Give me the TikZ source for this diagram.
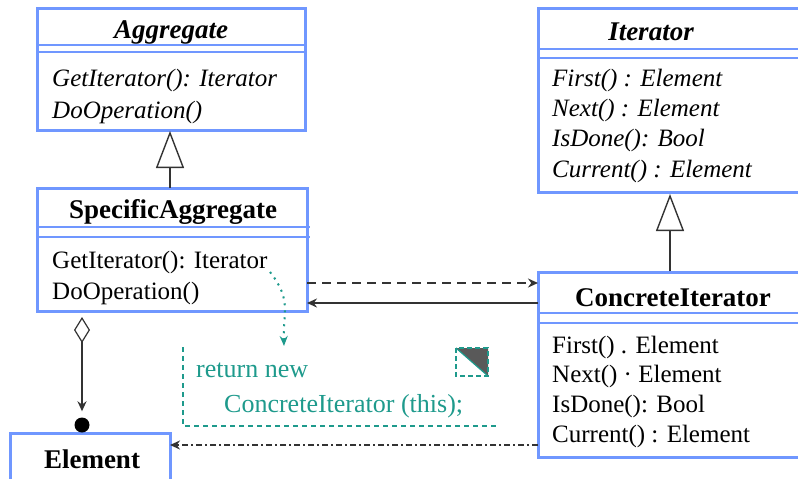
\documentclass[tikz,border=0pt]{standalone}
\usepackage{fontspec}
\setmainfont{Liberation Serif}
\usetikzlibrary{arrows.meta,calc}
\definecolor{boxblue}{HTML}{7097FF}
\definecolor{noteteal}{HTML}{1E9A8C}
\definecolor{linegray}{HTML}{333333}
\begin{document}
\begin{tikzpicture}[x=1pt,y=-1pt,
  classbox/.style={draw=boxblue, line width=3pt, fill=white, inner sep=0pt, outer sep=0pt},
  sepline/.style={draw=boxblue, line width=2.6pt},
  titletxt/.style={font=\fontsize{27}{30}\selectfont\bfseries, inner sep=0pt},
  abstitle/.style={titletxt, font=\fontsize{27}{30}\selectfont\bfseries\itshape},
  methtxt/.style={anchor=west, inner sep=0pt, font=\fontsize{25}{28}\selectfont},
  absmeth/.style={methtxt, font=\fontsize{25}{28}\selectfont\itshape},
  notetxt/.style={anchor=west, inner sep=0pt, text=noteteal, font=\fontsize{26}{29}\selectfont},
  conn/.style={draw=linegray, line width=2pt},
  inherit/.style={conn, -{Triangle[open, length=37pt, width=28pt, line width=1.4pt]}},
  tip/.style={-{Stealth[length=10pt, width=9pt]}}
]
\useasboundingbox (0,0) rectangle (798,479);
\clip (0,0) rectangle (798,479);

% Aggregate
\node[classbox, minimum width=268pt, minimum height=122pt] (agg) at (171,69) {};
\draw[sepline] (agg.west |- 0,45) -- (agg.east |- 0,45);
\draw[sepline] (agg.west |- 0,52) -- (agg.east |- 0,52);
\node[abstitle] (aggT) at (171,32) {Aggregate};
\node[absmeth] (aggM1) at (52,80) {GetIterator(): Iterator};
\node[absmeth] (aggM2) at (52,112) {DoOperation()};

% SpecificAggregate
\node[classbox, minimum width=270pt, minimum height=123pt] (sa) at (172,249.5) {};
\draw[sepline] (sa.west |- 0,227) -- (310,227);
\draw[sepline] (sa.west |- 0,237) -- (310,237);
\node[titletxt] (saT) at (173,212) {SpecificAggregate};
\node[methtxt] (saM1) at (52,262) {GetIterator(): Iterator};
\node[methtxt] (saM2) at (52,293) {DoOperation()};

% Iterator
\node[classbox, minimum width=272pt, minimum height=184pt] (it) at (674,100) {};
\draw[sepline] (it.west |- 0,49) -- (it.east |- 0,49);
\draw[sepline] (it.west |- 0,58) -- (it.east |- 0,58);
\node[abstitle] (itT) at (651,32) {Iterator};
\node[absmeth] (itM1) at (552,80) {First() : Element};
\node[absmeth] (itM2) at (552,110) {Next() : Element};
\node[absmeth] (itM3) at (552,140) {IsDone(): Bool};
\node[absmeth] (itM4) at (552,171) {Current() : Element};

% ConcreteIterator
\node[classbox, minimum width=272pt, minimum height=185pt] (ci) at (674,364.5) {};
\draw[sepline] (ci.west |- 0,313) -- (ci.east |- 0,313);
\draw[sepline] (ci.west |- 0,323) -- (ci.east |- 0,323);
\node[titletxt] (ciT) at (673,298) {ConcreteIterator};
\node[methtxt] (ciM1) at (552,347) {First() . Element};
\node[methtxt] (ciM2) at (552,376) {Next() · Element};
\node[methtxt] (ciM3) at (552,406) {IsDone(): Bool};
\node[methtxt] (ciM4) at (552,436) {Current() : Element};

% Element
\node[classbox, minimum width=160pt, minimum height=57pt] (el) at (90,461.5) {};
\node[titletxt] (elT) at (92,459) {Element};

% generalisations
\coordinate (saTop) at (170,188);
\coordinate (aggBot) at (170,131);
\draw[inherit] (saTop) -- (aggBot);
\coordinate (ciTop) at (670,271);
\coordinate (itBot) at (670,194);
\draw[inherit] (ciTop) -- (itBot);

% creation (dashed) and back reference (solid)
\draw[conn, dashed, dash pattern=on 9pt off 6pt, tip] (sa.east |- 0,283) -- (ci.west |- 0,283);
\draw[conn, tip] (ci.west |- 0,303) -- (sa.east |- 0,303);

% aggregation of elements
\node[circle, fill=black, inner sep=0pt, minimum size=15pt] (dot) at (82,425) {};
\draw[conn, {Diamond[open, length=26pt, width=16pt, line width=1.2pt]}-{Stealth[length=10pt, width=9pt]}, shorten <=6pt, shorten >=6pt]
  (sa.south -| dot) -- (dot.north);

% iteration over elements
\draw[conn, line width=1.5pt, dash pattern=on 6pt off 3pt on 2pt off 3pt, tip] (ci.west |- 0,445) -- (el.east |- 0,445);

% implementation note
\coordinate (noteSrc) at (270,272);
\coordinate (noteTop) at (284,346);
\draw[noteteal, line width=2pt, dash pattern=on 2pt off 5pt, -{Stealth[length=10pt, width=8pt]}]
  (noteSrc) .. controls (292,300) and (283,312) .. (noteTop);
\draw[noteteal, line width=2pt, dash pattern=on 5pt off 4pt] (183,347) -- (183,426) -- (497,426);
\node[notetxt] (nt1) at (196,370) {return new};
\node[notetxt] (nt2) at (224,406) {ConcreteIterator (this);};
\fill[gray!70!black] (456,348) -- (488,348) -- (488,376) -- cycle;
\draw[noteteal, line width=1.8pt, dash pattern=on 5pt off 3pt] (456,348) rectangle (488,376);
\draw[noteteal, line width=1.2pt] (456,348) -- (488,376);
\end{tikzpicture}
\end{document}
